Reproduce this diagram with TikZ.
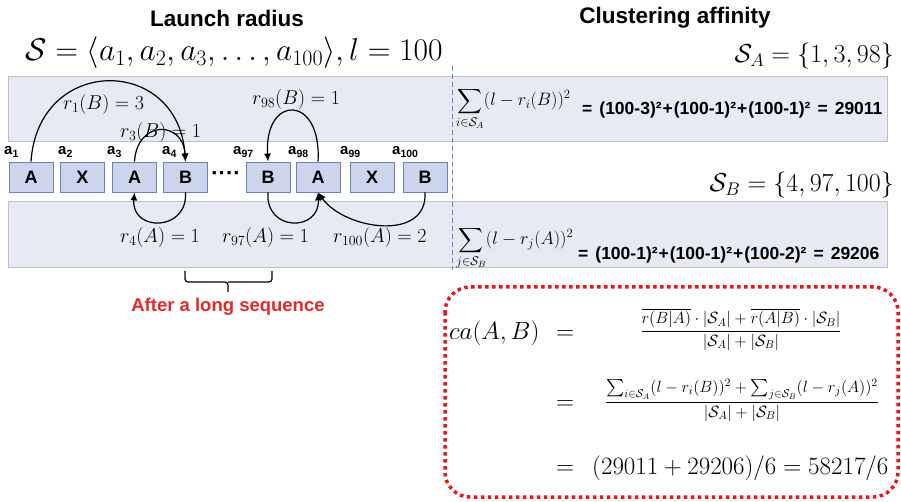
\RequirePackage{fix-cm}
\documentclass[tikz,border=0pt]{standalone}
\usepackage{amsmath}
\usepackage{fontspec}
\newfontfamily\hfont{Liberation Sans}
\usetikzlibrary{arrows.meta}
\definecolor{bandfill}{RGB}{231,233,243}
\definecolor{bandline}{RGB}{190,192,200}
\definecolor{boxfill}{RGB}{204,213,235}
\definecolor{boxline}{RGB}{105,130,180}
\definecolor{redbox}{RGB}{240,20,20}
\definecolor{dashblue}{RGB}{91,140,210}
\definecolor{redtext}{RGB}{232,40,40}
\begin{document}
\begin{tikzpicture}[x=1pt,y=-1pt,
  seqbox/.style={draw=boxline, fill=boxfill, line width=0.8pt, minimum width=44pt, minimum height=30pt, inner sep=0pt, font=\hfont\bfseries\fontsize{18}{18}\selectfont},
  bandbox/.style={draw=bandline, fill=bandfill, line width=0.8pt},
  lab/.style={anchor=base west, inner sep=0pt, font=\hfont\bfseries\fontsize{15}{15}\selectfont},
  arc/.style={line width=1.2pt, -{Latex[length=8pt,width=7pt]}},
  rlab/.style={inner sep=0pt, anchor=base west, font=\fontsize{20}{22}\selectfont},
  title/.style={inner sep=0pt, font=\hfont\bfseries\fontsize{22.5}{24}\selectfont},
  bigmath/.style={inner sep=0pt, font=\fontsize{31.5}{33}\selectfont},
  setmath/.style={inner sep=0pt, anchor=base east, font=\fontsize{26}{28}\selectfont},
  summath/.style={inner sep=0pt, anchor=base west, font=\fontsize{18}{20}\selectfont},
  sumtext/.style={inner sep=0pt, anchor=base west, font=\hfont\bfseries\fontsize{17.5}{19}\selectfont},
  camath/.style={inner sep=0pt, font=\fontsize{25}{27}\selectfont},
  frmath/.style={inner sep=0pt, font=\fontsize{16.3}{18}\selectfont},
]
\useasboundingbox (0,0) rectangle (901,502);

% titles
\node[title] (t1) at (227,18) {Launch radius};
\node[title] (t2) at (675,18) {Clustering affinity};

\node[bigmath, anchor=base west] (seq) at (25,61) {$\mathcal{S}=\langle a_1,a_2,a_3,\ldots,a_{100}\rangle, l=100$};

% bands
\path[bandbox] (8,76) rectangle (887,141);
\path[bandbox] (8,201) rectangle (887,267);

% dashed separator
\draw[dashblue, line width=1pt, dash pattern=on 5pt off 3pt] (452,66) -- (452,270);

% sequence boxes
\node[seqbox] (b1) at (31,177) {A};
\node[seqbox] (b2) at (82.5,177) {X};
\node[seqbox] (b3) at (134.5,177) {A};
\node[seqbox] (b4) at (185.5,177) {B};
\node[inner sep=0pt, font=\hfont\bfseries\fontsize{22}{22}\selectfont] (dots) at (226,176) {····};
\node[seqbox] (b97) at (268,177) {B};
\node[seqbox] (b98) at (318,177) {A};
\node[seqbox] (b99) at (372,177) {X};
\node[seqbox] (b100) at (425,177) {B};

% index labels
\node[lab] (l1) at (4,155) {a\textsubscript{1}};
\node[lab] (l2) at (58,155) {a\textsubscript{2}};
\node[lab] (l3) at (107,155) {a\textsubscript{3}};
\node[lab] (l4) at (162,155) {a\textsubscript{4}};
\node[lab] (l97) at (233,155) {a\textsubscript{97}};
\node[lab] (l98) at (288,155) {a\textsubscript{98}};
\node[lab] (l99) at (340,155) {a\textsubscript{99}};
\node[lab] (l100) at (392,155) {a\textsubscript{100}};

% arcs
\draw[arc] (b1.north) .. controls (38,55) and (178,55) .. (b4.north);
\draw[arc] (b3.north) .. controls (137,120) and (183,120) .. (b4.north);
\draw[arc] (b98.north) .. controls (322,94) and (264,94) .. (b97.north);
\draw[arc] (b4.south) .. controls (188,232) and (131,232) .. (b3.south);
\draw[arc] (b97.south) .. controls (265,232) and (320,232) .. (b98.south);
\draw[arc] (b100.south) .. controls (428,242) and (345,230) .. (b98.south);

% radius labels
\node[rlab] (r1) at (63,110) {$r_1(B)=3$};
\node[rlab] (r3) at (120,138) {$r_3(B)=1$};
\node[rlab] (r98) at (252,105) {$r_{98}(B)=1$};
\node[rlab] (r4) at (120,243) {$r_4(A)=1$};
\node[rlab] (r97) at (222,243) {$r_{97}(A)=1$};
\node[rlab] (r100) at (333,243) {$r_{100}(A)=2$};

% brace
\draw[line width=1.2pt, rounded corners=3pt] (185,271) -- (185,282) -- (228,282) -- (228,292);
\draw[line width=1.2pt, rounded corners=3pt] (228,282) -- (272,282) -- (272,271);
\node[inner sep=0pt, anchor=base, text=redtext, font=\hfont\bfseries\fontsize{18.5}{20}\selectfont] (after) at (228,311) {After a long sequence};

% right side
\node[setmath] (sa) at (894,63) {$\mathcal{S}_A=\{1,3,98\}$};
\node[setmath] (sb) at (894,192) {$\mathcal{S}_B=\{4,97,100\}$};
\node[summath] (suma) at (456,106) {$\displaystyle\sum_{i\in\mathcal{S}_A}(l-r_i(B))^2$};
\node[sumtext] (suma2) at (582,115) {=\hspace{7pt}(100-3)²\kern1pt+\kern1pt(100-1)²\kern1pt+\kern1pt(100-1)²\hspace{7pt}=\hspace{7pt}29011};
\node[summath] (sumb) at (456,245) {$\displaystyle\sum_{j\in\mathcal{S}_B}(l-r_j(A))^2$};
\node[sumtext] (sumb2) at (578,260) {=\hspace{7pt}(100-1)²\kern1pt+\kern1pt(100-1)²\kern1pt+\kern1pt(100-2)²\hspace{7pt}=\hspace{7pt}29206};

% red dotted box
\draw[redbox, line width=3.5pt, dash pattern=on 3.5pt off 3.5pt, rounded corners=25pt] (445,287) rectangle (898,497);

\node[camath, anchor=base west] (ca) at (449,339) {$ca(A,B)$};
\node[camath, anchor=base west] (eq1) at (556,339) {$=$};
\node[frmath, anchor=base] (fr1) at (741,335) {$\dfrac{\overline{r(B|A)}\cdot|\mathcal{S}_A|+\overline{r(A|B)}\cdot|\mathcal{S}_B|}{|\mathcal{S}_A|+|\mathcal{S}_B|}$};
\node[camath, anchor=base west] (eq2) at (556,409) {$=$};
\node[frmath, anchor=base] (fr2) at (742,406) {$\dfrac{\sum_{i\in\mathcal{S}_A}(l-r_i(B))^2+\sum_{j\in\mathcal{S}_B}(l-r_j(A))^2}{|\mathcal{S}_A|+|\mathcal{S}_B|}$};
\node[camath, anchor=base west] (eq3) at (556,474) {$=$};
\node[camath, anchor=base west] (res) at (592,474) {$(29011+29206)/6=58217/6$};
\end{tikzpicture}
\end{document}
